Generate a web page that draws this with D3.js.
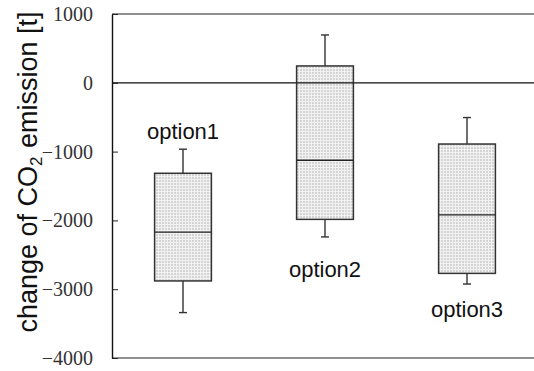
<!DOCTYPE html>
<html>
<head>
<meta charset="utf-8">
<script src="https://cdn.jsdelivr.net/npm/d3@7"></script>
<style>
  html, body { margin: 0; padding: 0; background: #fff; }
  svg { display: block; }
</style>
</head>
<body>
<svg id="chart" width="534" height="371"></svg>
<script>
// Box-plot summaries of the change in CO2 emission per option [t]
const options      = ["option1", "option2", "option3"];
const whiskerLow   = [-3340, -2240, -2925];
const quartileLow  = [-2880, -1985, -2770];
const medians      = [-2170, -1125, -1920];
const quartileHigh = [-1315,   245,  -890];
const whiskerHigh  = [ -965,   695,  -505];
// value at which each option's name is written
const labelAnchor  = [ -815, -2820, -3400];
const yTicks = [1000, 0, -1000, -2000, -3000, -4000];

(function () {
const svg = d3.select("#chart");
const W = 534;
const plotLeft = 112, plotTop = 14, plotBottom = 358;

const y = d3.scaleLinear().domain([-4000, 1000]).range([plotBottom, plotTop]);
const x = d3.scaleBand().domain(options).range([plotLeft, 538])
  .paddingInner(0.6).paddingOuter(0.3);

// dotted light-grey fill of the boxes
const defs = svg.append("defs");
const pat = defs.append("pattern").attr("id", "dots")
  .attr("width", 3).attr("height", 3).attr("patternUnits", "userSpaceOnUse");
pat.append("rect").attr("width", 3).attr("height", 3).attr("fill", "#f2f2f2");
pat.append("rect").attr("width", 2).attr("height", 2).attr("fill", "#d4d4d4");

// frame lines
svg.append("line").attr("x1", plotLeft).attr("x2", W).attr("y1", plotTop).attr("y2", plotTop)
  .attr("stroke", "#6a6a6a").attr("stroke-width", 1.6);
svg.append("line").attr("x1", plotLeft).attr("x2", W).attr("y1", plotBottom).attr("y2", plotBottom)
  .attr("stroke", "#222").attr("stroke-width", 1.2);

// left axis with inward ticks
const axis = svg.append("g").attr("transform", `translate(${plotLeft},0)`)
  .call(d3.axisLeft(y).tickValues(yTicks)
    .tickFormat(d => d3.format("d")(d).replace("-", "\u2212"))
    .tickSizeInner(-6).tickSizeOuter(0).tickPadding(19));
axis.attr("font-family", "'Liberation Serif', serif").attr("font-size", 20);
axis.select(".domain").attr("stroke", "#111").attr("stroke-width", 1.4);
axis.selectAll(".tick line").attr("stroke", "#222").attr("stroke-width", 1);
axis.selectAll(".tick text").attr("fill", "#333");

// zero line
svg.append("line").attr("x1", plotLeft).attr("x2", W).attr("y1", y(0)).attr("y2", y(0))
  .attr("stroke", "#111").attr("stroke-width", 1.2);

// boxes
const data = options.map((name, i) => ({
  name, lo: whiskerLow[i], q1: quartileLow[i], med: medians[i],
  q3: quartileHigh[i], hi: whiskerHigh[i], lab: labelAnchor[i]
}));

const g = svg.append("g").selectAll("g").data(data).join("g");
const cx = d => x(d.name) + x.bandwidth() / 2;
const capHalf = 4;

g.append("line").attr("x1", cx).attr("x2", cx)
  .attr("y1", d => y(d.hi)).attr("y2", d => y(d.q3))
  .attr("stroke", "#333").attr("stroke-width", 1.4);
g.append("line").attr("x1", cx).attr("x2", cx)
  .attr("y1", d => y(d.q1)).attr("y2", d => y(d.lo))
  .attr("stroke", "#333").attr("stroke-width", 1.4);
g.append("line").attr("x1", d => cx(d) - capHalf).attr("x2", d => cx(d) + capHalf)
  .attr("y1", d => y(d.hi)).attr("y2", d => y(d.hi))
  .attr("stroke", "#333").attr("stroke-width", 1.4);
g.append("line").attr("x1", d => cx(d) - capHalf).attr("x2", d => cx(d) + capHalf)
  .attr("y1", d => y(d.lo)).attr("y2", d => y(d.lo))
  .attr("stroke", "#333").attr("stroke-width", 1.4);

g.append("rect")
  .attr("x", d => x(d.name)).attr("width", x.bandwidth())
  .attr("y", d => y(d.q3)).attr("height", d => y(d.q1) - y(d.q3))
  .attr("fill", "url(#dots)").attr("stroke", "#333").attr("stroke-width", 1.5);

// zero line shows through the boxes
g.filter(d => d.q3 > 0 && d.q1 < 0).append("line")
  .attr("x1", d => x(d.name)).attr("x2", d => x(d.name) + x.bandwidth())
  .attr("y1", y(0)).attr("y2", y(0)).attr("stroke", "#111").attr("stroke-width", 1.2);

g.append("line")
  .attr("x1", d => x(d.name)).attr("x2", d => x(d.name) + x.bandwidth())
  .attr("y1", d => y(d.med)).attr("y2", d => y(d.med))
  .attr("stroke", "#222").attr("stroke-width", 1.4);

g.append("text")
  .attr("x", cx).attr("y", d => y(d.lab))
  .attr("text-anchor", "middle")
  .attr("font-family", "'Liberation Sans', Arial, sans-serif")
  .attr("font-size", 22).attr("fill", "#111")
  .text(d => d.name);

// y-axis title
const title = svg.append("text")
  .attr("transform", "translate(37,172) rotate(-90)")
  .attr("text-anchor", "middle")
  .attr("font-family", "'Liberation Sans', Arial, sans-serif")
  .attr("font-size", 27).attr("fill", "#111")
  .attr("xml:space", "preserve");
title.append("tspan").text("change of CO");
title.append("tspan").attr("font-size", 17).attr("dy", 5).text("2");
title.append("tspan").attr("dy", -5).attr("dx", 1).text("\u00a0emission [t]");
})();
</script>
</body>
</html>
